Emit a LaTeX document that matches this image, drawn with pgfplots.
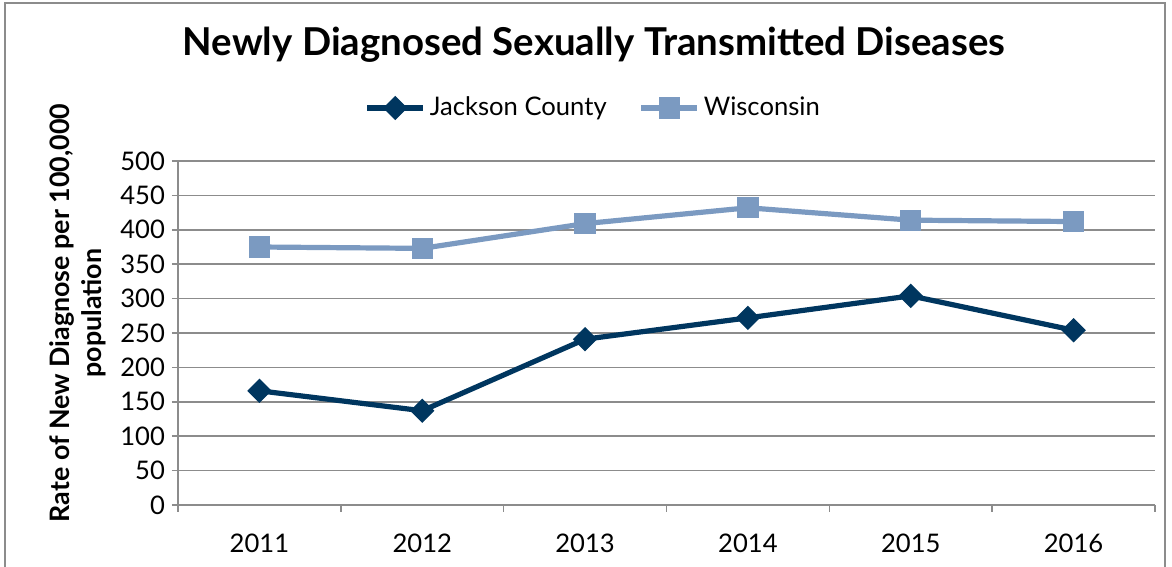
\documentclass[border=0pt]{standalone}
\usepackage{fontspec}
\setmainfont{Lato}
\usepackage{pgfplots}
\pgfplotsset{compat=1.18}
\definecolor{jack}{HTML}{00365F}
\definecolor{wisc}{HTML}{7B9AC1}
\definecolor{gridc}{HTML}{8C8C8C}
\begin{document}
\begin{tikzpicture}
\useasboundingbox (-89pt,-31pt) rectangle (497pt,252.5pt);
\begin{axis}[
  scale only axis,
  width=488.5pt, height=172pt,
  xmin=-0.5, xmax=5.5,
  ymin=0, ymax=500,
  ytick={0,50,...,500},
  xtick={0,1,2,3,4,5},
  xticklabels={2011,2012,2013,2014,2015,2016},
  minor xtick={-0.5,0.5,1.5,2.5,3.5,4.5,5.5},
  axis x line*=bottom,
  axis y line*=left,
  axis line style={gridc, line width=0.8pt},
  x axis line style={-}, y axis line style={-},
  ymajorgrids,
  major grid style={gridc, line width=0.8pt},
  tick style={gridc, line width=0.8pt},
  tick align=outside,
  major x tick style={draw=none},
  minor x tick style={gridc},
  minor tick length=3.5pt,
  major tick length=3pt,
  /pgf/number format/assume math mode=true,
  ticklabel style={font=\fontsize{12.8}{14}\selectfont, text=black},
  xticklabel style={yshift=-8pt},
  ylabel={Rate of New Diagnose per 100,000\\population},
  y label style={at={(axis description cs:-0.1024,0.558)}, anchor=center, align=center, font=\fontsize{13.4}{16}\selectfont\bfseries},
  legend columns=2,
  legend style={draw=none, fill=none, at={(axis description cs:0.426,1.154)}, anchor=center, font=\fontsize{12.8}{14}\selectfont, /tikz/every even column/.append style={column sep=14pt}},
  legend image code/.code={\draw[mark repeat=2,mark phase=2] plot coordinates {(0pt,0pt)(14pt,0pt)(28pt,0pt)};},
]
\addplot[jack, line width=2.6pt, mark=square*, mark size=4pt, mark options={solid, rotate=45, line width=0.6pt}] coordinates {
  (0,166) (1,137) (2,241) (3,272) (4,304) (5,254)
};
\addlegendentry{Jackson County}
\addplot[wisc, line width=2.6pt, mark=square*, mark size=5pt, mark options={solid, line width=0.6pt}] coordinates {
  (0,375) (1,373) (2,409) (3,432) (4,414) (5,412)
};
\addlegendentry{Wisconsin}
\end{axis}
\node[font=\fontsize{19.2}{22}\selectfont\bfseries, anchor=center] at (208pt,230pt) {Newly Diagnosed Sexually Transmitted Diseases};
\draw[gridc, line width=0.75pt] (-86.5pt,-31pt) -- (-86.5pt,251pt) -- (493.5pt,251pt) -- (493.5pt,-31pt);
\end{tikzpicture}
\end{document}
